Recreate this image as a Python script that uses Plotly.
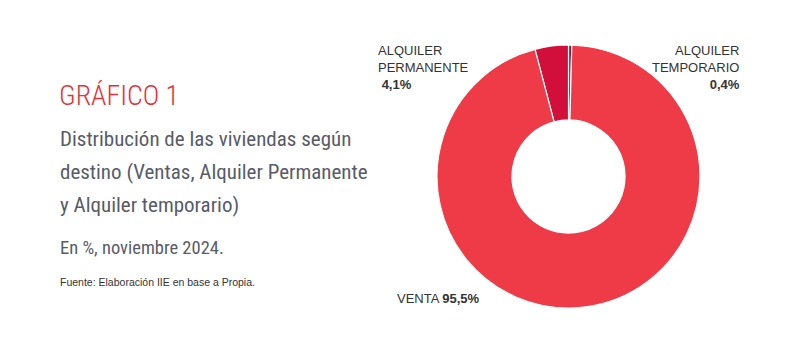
import plotly.graph_objects as go

categories = ["ALQUILER TEMPORARIO", "ALQUILER PERMANENTE", "VENTA"]
values = [0.4, 4.1, 95.5]
value_labels = ["0,4%", "4,1%", "95,5%"]
colors = ["#9A1030", "#D10F3A", "#EF3B47"]

title_red = "GRÁFICO 1"
title_lines = ["Distribución de las viviendas según",
               "destino (Ventas, Alquiler Permanente",
               "y Alquiler temporario)"]
subtitle = "En %, noviembre 2024."
source = "Fuente: Elaboración IIE en base a Propia."

W, H = 794, 340
fig = go.Figure()
fig.add_trace(go.Pie(
    labels=categories, values=values, sort=False, direction="counterclockwise",
    rotation=0, hole=0.43, textinfo="none", hoverinfo="label+percent",
    marker=dict(colors=colors, line=dict(color="white", width=1.2)),
    domain=dict(x=[437 / W, 700 / W], y=[1 - 308 / H, 1 - 45 / H]),
    showlegend=False,
))

narrow = "Roboto Condensed"
grey = "#575C68"
ann = []
def px(x, y, text, size, color, font=narrow, weight=400):
    ann.append(dict(x=x / W, y=1 - y / H, xref="paper", yref="paper", text=text,
                    showarrow=False, xanchor="left", yanchor="bottom", align="left",
                    font=dict(family=font, size=size, color=color, weight=weight)))

px(57, 114, title_red, 28, "#E8303A", weight=300)
for i, line in enumerate(title_lines):
    px(58, 153 + 33 * i, line, 21, grey)
px(58, 261, subtitle, 18.5, grey)
px(58, 290, source, 10.5, "#333333", font="Liberation Sans")

lab_font = "Liberation Sans"
ann.append(dict(x=376 / W, y=1 - 41 / H, xref="paper", yref="paper",
                text=f"ALQUILER<br>PERMANENTE<br> <b>{value_labels[1]}</b>",
                showarrow=False, xanchor="left", yanchor="top", align="left",
                font=dict(family=lab_font, size=13, color="#333333")))
ann.append(dict(x=742 / W, y=1 - 41 / H, xref="paper", yref="paper",
                text=f"ALQUILER<br>TEMPORARIO<br><b>{value_labels[0]}</b>",
                showarrow=False, xanchor="right", yanchor="top", align="right",
                font=dict(family=lab_font, size=13, color="#333333")))
ann.append(dict(x=395 / W, y=1 - 298 / H, xref="paper", yref="paper",
                text=f"VENTA <b>{value_labels[2]}</b>",
                showarrow=False, xanchor="left", yanchor="middle", align="left",
                font=dict(family=lab_font, size=13, color="#333333")))

fig.update_layout(width=W, height=H, margin=dict(l=0, r=0, t=0, b=0),
                  paper_bgcolor="white", plot_bgcolor="white", annotations=ann)
fig.write_html("out.html")
